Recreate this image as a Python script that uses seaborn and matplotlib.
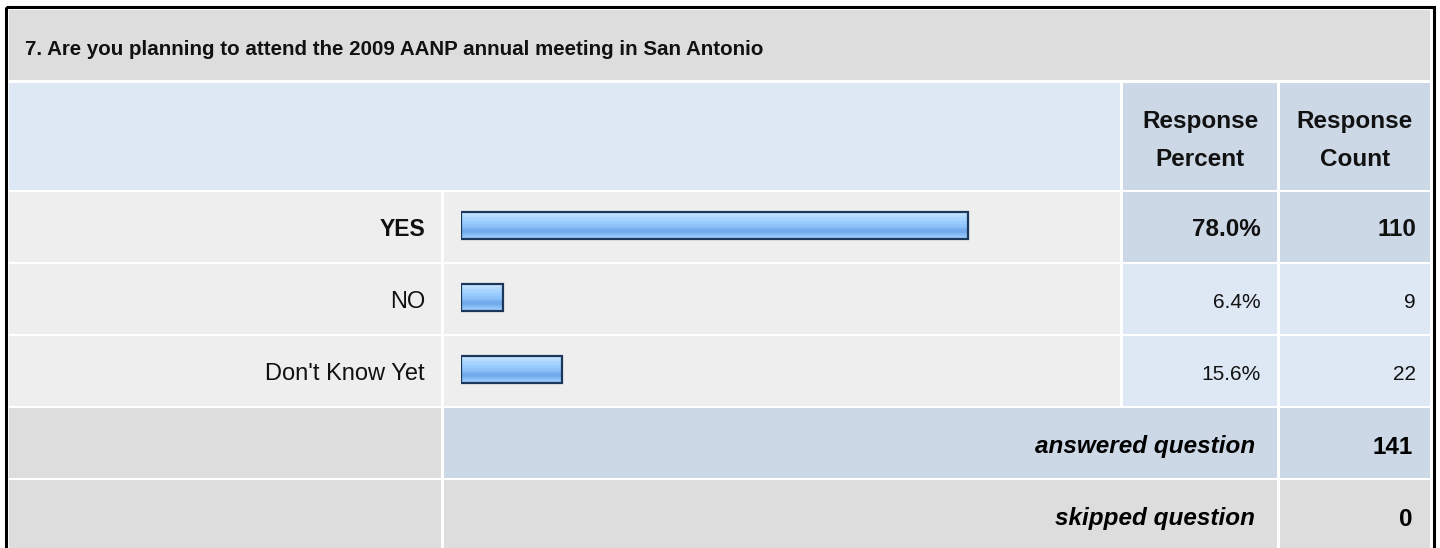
import numpy as np
import pandas as pd
import matplotlib
matplotlib.use('Agg')
import matplotlib.pyplot as plt
from matplotlib.patches import Rectangle
from matplotlib import font_manager
import seaborn as sns

# Datos de la encuesta
titulo = '7. Are you planning to attend the 2009 AANP annual meeting in San Antonio'
opciones = ['YES', 'NO', "Don't Know Yet"]
porcentajes = [78.0, 6.4, 15.6]
conteos = [110, 9, 22]
destacada = [True, False, False]
encabezados = [('Response', 'Percent'), ('Response', 'Count')]
pie_textos = ['answered question', 'skipped question']
pie_valores = [141, 0]

sns.set_style('white')
plt.rcParams['font.family'] = ['Liberation Sans', 'DejaVu Sans']

# fuente angosta para el pie de tabla (si existe)
try:
    font_manager.findfont('Liberation Sans Narrow', fallback_to_default=False)
    fuente_pie, size_pie = ['Liberation Sans Narrow', 'Liberation Sans'], 22
except Exception:
    fuente_pie, size_pie = ['Liberation Sans', 'DejaVu Sans'], 17.5

W, H = 1440, 548
fig = plt.figure(figsize=(W / 100, H / 100), dpi=100)
ax = fig.add_axes([0, 0, 1, 1])
ax.set_xlim(0, W)
ax.set_ylim(H, 0)
ax.axis('off')


def celda(x0, x1, y0, y1, color):
    ax.add_patch(Rectangle((x0, y0), x1 - x0, y1 - y0, facecolor=color,
                           edgecolor='none', zorder=1))


# columnas y filas de la tabla (pixeles)
cols = [(9, 441), (444, 1120), (1123, 1277), (1280, 1430)]
filas = [(192, 262), (264, 334), (336, 406)]
fila_pie = [(408, 478), (480, 560)]

GRIS = '#dddddd'
CLARO = '#eeeeee'
AZUL = '#dde8f4'
AZUL2 = '#ccd8e6'
TINTA = '#111111'

celda(9, 1430, 10, 80, GRIS)
celda(9, 1120, 83, 190, AZUL)
celda(*cols[2], 83, 190, AZUL2)
celda(*cols[3], 83, 190, AZUL2)

ax.text(25, 55, titulo, fontsize=14.8, fontweight='bold', color=TINTA,
        ha='left', va='baseline')

for (l1, l2), (c0, c1) in zip(encabezados, cols[2:]):
    xc = (c0 + c1) / 2
    ax.text(xc, 128, l1, fontsize=17.5, fontweight='bold', color=TINTA,
            ha='center', va='baseline')
    ax.text(xc, 166, l2, fontsize=17.5, fontweight='bold', color=TINTA,
            ha='center', va='baseline')

for i, (y0, y1) in enumerate(filas):
    fondo_val = AZUL2 if destacada[i] else AZUL
    celda(*cols[0], y0, y1, CLARO)
    celda(*cols[1], y0, y1, CLARO)
    celda(*cols[2], y0, y1, fondo_val)
    celda(*cols[3], y0, y1, fondo_val)
    peso = 'bold' if destacada[i] else 'normal'
    size_val = 17.5 if destacada[i] else 15
    base = (y0 + y1) / 2 + 8.5
    ax.text(425, base, opciones[i], fontsize=17 if not destacada[i] else 16.5,
            fontweight=peso, color=TINTA, ha='right', va='baseline')
    ax.text(1261, base, f'{porcentajes[i]:.1f}%', fontsize=size_val,
            fontweight=peso, color=TINTA, ha='right', va='baseline')
    ax.text(1416, base, str(conteos[i]), fontsize=size_val, fontweight=peso,
            color=TINTA, ha='right', va='baseline')

for i, (y0, y1) in enumerate(fila_pie):
    fondo = AZUL2 if i == 0 else GRIS
    celda(*cols[0], y0, y1, GRIS)
    celda(444, 1277, y0, y1, fondo)
    celda(*cols[3], y0, y1, fondo)
    base = y0 + 45.5
    ax.text(1255, base, pie_textos[i], family=fuente_pie, fontsize=size_pie,
            fontweight='bold', style='italic', color='#000000',
            ha='right', va='baseline')
    ax.text(1413, base, str(pie_valores[i]), family=fuente_pie,
            fontsize=size_pie, fontweight='bold', color='#000000',
            ha='right', va='baseline')

# borde exterior
ax.add_patch(Rectangle((5.5, 6.5), 1428, 600, facecolor='none',
                       edgecolor='#000000', linewidth=2.2, zorder=5))

# Barras con seaborn
df = pd.DataFrame({'opcion': opciones, 'porcentaje': porcentajes})
bar_ax = fig.add_axes([461 / W, 1 - 405.5 / H, 650 / W, 216 / H])
bar_ax.patch.set_alpha(0)
sns.barplot(data=df, x='porcentaje', y='opcion', orient='h', width=0.385,
            color='#9ecbff', saturation=1, edgecolor='#1c3759',
            linewidth=1.6, errorbar=None, ax=bar_ax)

# degradado tipo "glossy" dentro de cada barra
grad_cols = ['#d2e9ff', '#c2e2ff', '#b4dbff', '#a8d4ff', '#9fcfff', '#97caff',
             '#90c5fc', '#88bff8', '#76aeee', '#72aaec', '#80b8f4', '#8ec4fb',
             '#9acdff']
grad = np.array([matplotlib.colors.to_rgb(c) for c in grad_cols])[:, None, :]
for bar in bar_ax.patches:
    x0, y0 = bar.get_x(), bar.get_y()
    w, h = bar.get_width(), bar.get_height()
    im = bar_ax.imshow(grad, extent=(x0, x0 + w, y0 + h, y0), aspect='auto',
                       interpolation='nearest', zorder=bar.get_zorder() - 0.1)
    im.set_clip_path(bar)
    bar.set_facecolor('none')

bar_ax.set_xlim(0, 100)
bar_ax.set_ylim(2.5, -0.5)
bar_ax.axis('off')

fig.savefig('out.png', dpi=100)
